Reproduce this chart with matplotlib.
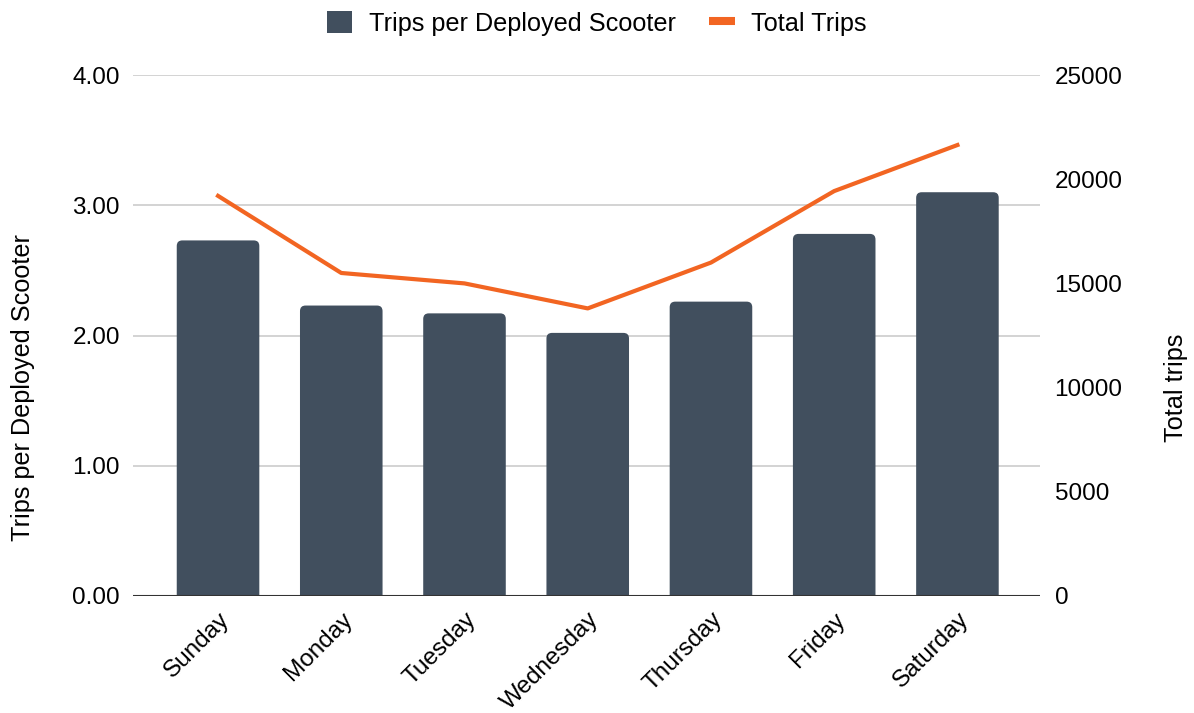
import matplotlib.pyplot as plt
from matplotlib.patches import FancyBboxPatch
from matplotlib.lines import Line2D

plt.rcParams['font.family'] = ['Liberation Sans', 'DejaVu Sans']

days = ['Sunday', 'Monday', 'Tuesday', 'Wednesday', 'Thursday', 'Friday', 'Saturday']
trips_per_scooter = [2.73, 2.23, 2.17, 2.02, 2.26, 2.78, 3.10]
total_trips = [19200, 15500, 15000, 13800, 16000, 19430, 21640]

bar_color = '#414f5e'
line_color = '#f26522'

fig = plt.figure(figsize=(11.94, 7.13), dpi=100)
ax1 = fig.add_axes([133 / 1194, 1 - 596 / 713, (1040 - 133) / 1194, (596 - 75) / 713])
ax2 = ax1.twinx()

x = list(range(len(days)))
bars = ax1.bar(x, trips_per_scooter, width=0.67, color=bar_color, zorder=2)

# swap the plain bars for rounded ones
for b in bars:
    bx, bw, bh = b.get_x(), b.get_width(), b.get_height()
    b.remove()
    ax1.add_patch(FancyBboxPatch((bx, -0.1), bw, bh + 0.1,
                                 boxstyle='round,pad=0,rounding_size=0.045',
                                 mutation_aspect=0.95, facecolor=bar_color,
                                 edgecolor='none', zorder=2))

ax2.plot(x, total_trips, color=line_color, linewidth=3, zorder=3)

ax1.set_xlim(-0.69, 6.67)
ax1.set_ylim(0, 4)
ax2.set_ylim(0, 25000)
ax1.set_yticks([0, 1, 2, 3, 4])
ax1.set_yticklabels([f'{v:.2f}' for v in [0, 1, 2, 3, 4]])
ax2.set_yticks([0, 5000, 10000, 15000, 20000, 25000])

ax1.set_xticks(x)
ax1.set_xticklabels(days, rotation=45, ha='right', rotation_mode='anchor')

ax1.grid(axis='y', color='#cccccc', linewidth=1.2, zorder=0)
ax1.set_axisbelow(True)
for ax in (ax1, ax2):
    for s in ('top', 'left', 'right', 'bottom'):
        ax.spines[s].set_visible(False)
    ax.tick_params(length=0, labelsize=17.5, colors='#000000')
ax1.tick_params(axis='x', labelsize=17.5, pad=9)
ax1.axhline(0, color='#333333', linewidth=1.5, zorder=4)

ax1.tick_params(axis='y', pad=9.5)
ax2.tick_params(axis='y', pad=10.5)

ax1.set_ylabel('Trips per Deployed Scooter', fontsize=18.2, labelpad=27)
ax2.set_ylabel('Total trips', fontsize=18.2, labelpad=30)
# both axis titles sit a bit below the middle of the plot
ax1.yaxis.label.set_y(0.40)
ax2.yaxis.label.set_y(0.40)

handles = [FancyBboxPatch((0, 0), 1, 1, boxstyle='round,pad=0,rounding_size=0.15',
                          facecolor=bar_color, edgecolor='none'),
           Line2D([], [], color=line_color, linewidth=5.8, solid_capstyle='butt')]
fig.legend(handles, ['Trips per Deployed Scooter', 'Total Trips'],
           loc='center', bbox_to_anchor=(0.5, 1 - 23.5 / 713), ncol=2,
           frameon=False, fontsize=18.2, handlelength=1.0, handleheight=0.93,
           handletextpad=0.66, columnspacing=1.32)

plt.savefig('out.png', dpi=100)
